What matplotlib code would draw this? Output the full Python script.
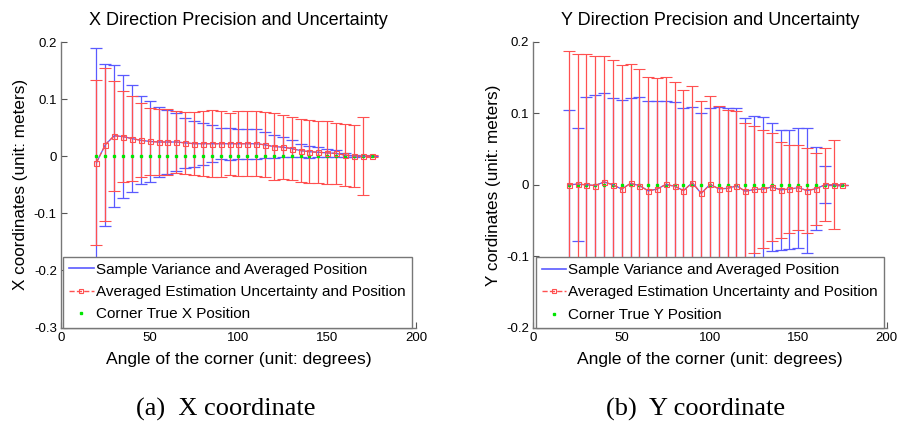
"""Precisione e incertezza della posizione dell'angolo (X e Y)."""
import numpy as np
from matplotlib import pyplot as plt
from matplotlib.lines import Line2D
from matplotlib.patches import Rectangle

# angoli dell'angolo (gradi)
angles = list(range(20, 180, 5))

# --- direzione X ---
x_mean = [-0.011, 0.0205, 0.036, 0.0345, 0.031, 0.028, 0.026, 0.025,
          0.025, 0.025, 0.0235, 0.022, 0.022, 0.022, 0.022, 0.022,
          0.022, 0.022, 0.022, 0.020, 0.017, 0.016, 0.0135, 0.010,
          0.008, 0.007, 0.006, 0.005, 0.002, 0.0006, 0.0, 0.0]
x_sample_err = [0.200, 0.142, 0.124, 0.107, 0.093, 0.077, 0.071, 0.061,
                0.056, 0.050, 0.044, 0.040, 0.037, 0.032, 0.027, 0.028,
                0.026, 0.026, 0.026, 0.023, 0.020, 0.018, 0.0155, 0.012,
                0.0105, 0.0085, 0.0075, 0.006, 0.003, 0.002, 0.0, 0.0]
x_est_err = [0.144, 0.134, 0.096, 0.079, 0.074, 0.065, 0.058, 0.057,
             0.057, 0.054, 0.054, 0.055, 0.057, 0.059, 0.058, 0.054,
             0.057, 0.057, 0.057, 0.057, 0.058, 0.056, 0.0555, 0.0555,
             0.055, 0.054, 0.055, 0.054, 0.054, 0.054, 0.068, 0.002]
x_true = [0.0] * len(angles)

# --- direzione Y ---
y_mean = [0.0, 0.001, 0.0, -0.001, 0.004, 0.0, -0.006, 0.002,
          -0.001, -0.0084, -0.006, 0.0005, -0.002, -0.008, 0.003, -0.012,
          0.0005, -0.0055, -0.005, -0.0014, -0.009, -0.0065, -0.006, -0.003,
          -0.007, -0.006, -0.004, -0.008, -0.0056, 0.0, 0.0, 0.0]
y_sample_err = [0.105, 0.079, 0.123, 0.126, 0.124, 0.121, 0.125, 0.120,
                0.124, 0.125, 0.123, 0.116, 0.118, 0.116, 0.106, 0.113,
                0.107, 0.114, 0.113, 0.109, 0.103, 0.103, 0.101, 0.090,
                0.084, 0.083, 0.084, 0.087, 0.058, 0.026, 0.0, 0.0]
y_est_err = [0.187, 0.182, 0.183, 0.181, 0.176, 0.175, 0.173, 0.167,
             0.163, 0.159, 0.155, 0.150, 0.146, 0.140, 0.135, 0.129,
             0.123, 0.116, 0.110, 0.104, 0.096, 0.089, 0.082, 0.075,
             0.067, 0.062, 0.059, 0.060, 0.050, 0.051, 0.062, 0.0]
y_true = [0.0] * len(angles)

BLUE = '#5a5aff'
RED = '#ff5050'
GREEN = '#00e600'

plt.rcParams['font.family'] = ['Liberation Sans', 'DejaVu Sans']


def draw_panel(ax, mean, sample_err, est_err, true_pos, axis_name, ylabel,
               ylim, yticks):
    ax.errorbar(angles, mean, yerr=sample_err, color=BLUE, linewidth=0.9,
                elinewidth=0.9, capsize=4.2, capthick=0.9)
    ax.errorbar(angles, mean, yerr=est_err, color=RED, linestyle='--',
                linewidth=0.9, elinewidth=0.9, capsize=4.2, capthick=0.9,
                marker='s', markersize=3.6, markerfacecolor='none',
                markeredgewidth=0.8)
    ax.plot(angles, true_pos, linestyle='none', marker='s', markersize=2.0,
            color=GREEN)

    ax.set_xlim(0, 200)
    ax.set_ylim(*ylim)
    ax.set_xticks([0, 50, 100, 150, 200])
    ax.set_yticks(yticks)
    ax.set_yticklabels(['0' if abs(t) < 1e-9 else f'{t:g}' for t in yticks])
    ax.tick_params(direction='in', length=4, width=0.8, labelsize=9.5,
                   colors='#555555', labelcolor='black', pad=3)
    ax.spines['top'].set_visible(False)
    ax.spines['right'].set_visible(False)
    for s in ('left', 'bottom'):
        ax.spines[s].set_color('#777777')
        ax.spines[s].set_linewidth(1.0)

    ax.set_title(f'{axis_name} Direction Precision and Uncertainty',
                 fontsize=13, pad=12)
    ax.set_xlabel('Angle of the corner (unit: degrees)', fontsize=12.6,
                  labelpad=6)
    ax.set_ylabel(ylabel, fontsize=12.3, labelpad=4)

    handles = [
        Line2D([], [], color=BLUE, linewidth=1.2),
        Line2D([], [], color=RED, linestyle='--', linewidth=1.0, marker='s',
               markersize=3, markerfacecolor='none', markeredgewidth=0.8),
        Line2D([], [], color=GREEN, linestyle='none', marker='s',
               markersize=2.0),
    ]
    labels = ['Sample Variance and Averaged Position',
              'Averaged Estimation Uncertainty and Position',
              f'Corner True {axis_name} Position']
    leg = ax.legend(handles, labels, loc='lower left',
                    bbox_to_anchor=(0.006, 0.0), borderaxespad=0,
                    fontsize=11, numpoints=1, handlelength=1.6,
                    handletextpad=0.15, labelspacing=0.55, borderpad=0.4,
                    fancybox=False, framealpha=1, edgecolor='#777777')
    leg.get_frame().set_linewidth(1.0)


fig = plt.figure(figsize=(9.01, 4.21), dpi=100)
ax1 = fig.add_axes([0.0677, 0.222, 0.394, 0.678])
ax2 = fig.add_axes([0.592, 0.221, 0.392, 0.680])

draw_panel(ax1, x_mean, x_sample_err, x_est_err, x_true, 'X',
           'X coordinates (unit: meters)', (-0.3, 0.2),
           [-0.3, -0.2, -0.1, 0.0, 0.1, 0.2])
draw_panel(ax2, y_mean, y_sample_err, y_est_err, y_true, 'Y',
           'Y cordinates (unit: meters)', (-0.2, 0.2),
           [-0.2, -0.1, 0.0, 0.1, 0.2])

# la figura originale e' ritagliata sotto le etichette dell'asse x
fig.patches.append(Rectangle((0, 40 / 421), 1, 12 / 421, color='white',
                             transform=fig.transFigure, zorder=10))

fig.text(0.251, 0.014, '(a)  X coordinate', ha='center', va='baseline',
         fontsize=19, family='Liberation Serif')
fig.text(0.772, 0.014, '(b)  Y coordinate', ha='center', va='baseline',
         fontsize=19, family='Liberation Serif')

fig.savefig('out.png', dpi=100)
